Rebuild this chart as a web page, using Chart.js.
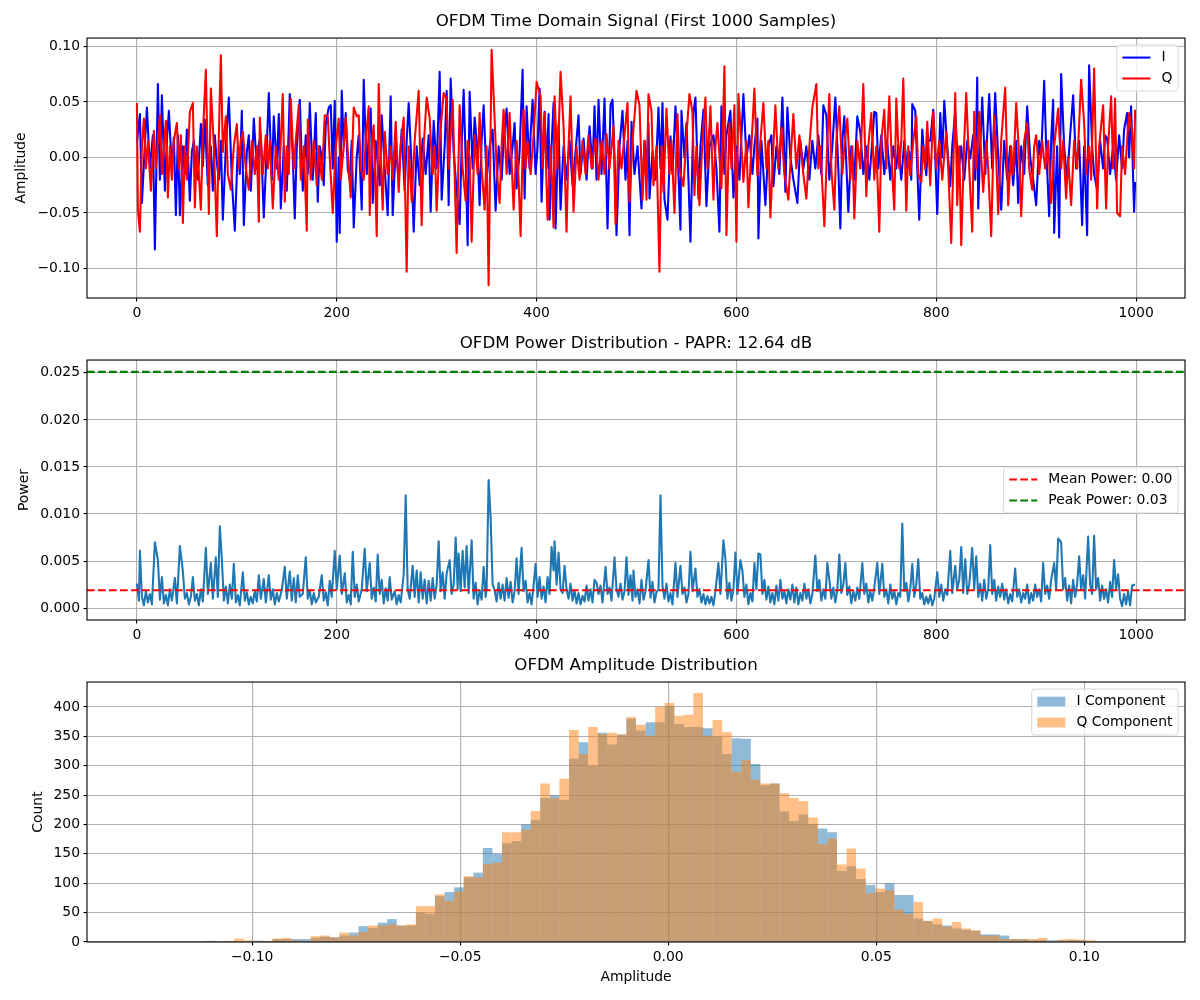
<!DOCTYPE html>
<html>
<head>
<meta charset="utf-8">
<script src="https://cdn.jsdelivr.net/npm/chart.js@4.4.1/dist/chart.umd.min.js"></script>
<style>
body{margin:0;background:#fff}
#wrap{position:relative;width:1200px;height:1000px}
canvas{position:absolute;left:0}
</style>
</head>
<body>
<div id="wrap">
<canvas id="c1" width="1200" height="330" style="top:0px"></canvas>
<canvas id="c2" width="1200" height="330" style="top:322px"></canvas>
<canvas id="c3" width="1200" height="356" style="top:644px"></canvas>
</div>
<script>

// --- time domain (sample index / amplitude) ---
let iIdx=[
0,3,5,8,10,13,16,18,21,23,
25,28,30,32,35,37,39,41,43,46,
48,50,53,55,57,59,61,64,66,68,
71,74,76,78,80,82,84,86,89,92,
95,98,101,103,105,107,110,112,114,117,
120,122,124,127,130,132,135,137,140,142,
144,147,150,153,156,158,160,163,166,169,
171,173,176,179,181,183,185,187,189,192,
194,196,198,200,202,203,205,207,209,211,
213,215,217,220,222,225,227,230,232,234,
236,239,243,245,248,251,254,256,259,262,
265,268,270,272,275,277,280,283,286,289,
292,294,297,300,303,305,308,310,312,314,
317,320,323,325,327,329,331,333,336,338,
341,343,345,347,350,353,356,359,362,365,
367,370,373,376,378,380,383,386,388,390,
393,394,396,399,401,403,405,408,410,412,
413,415,417,419,422,424,427,430,433,436,
439,442,444,447,450,453,456,458,460,462,
465,468,471,474,476,478,480,483,486,489,
491,493,495,498,501,505,508,510,512,513,
516,519,522,524,526,528,531,534,536,539,
541,544,545,548,550,552,554,557,559,562,
564,567,570,573,577,580,583,585,588,590,
594,597,600,603,607,610,613,616,618,621,
622,625,629,632,635,637,640,643,646,649,
651,654,657,661,664,667,670,673,676,679,
682,685,687,690,693,696,699,702,704,706,
708,712,715,718,721,724,727,730,733,736,
738,740,742,745,748,751,754,757,760,762,
765,768,771,773,775,776,779,781,783,786,
788,790,792,794,797,799,801,804,806,808,
811,814,816,819,822,825,828,831,834,837,
839,841,842,844,846,849,851,853,856,859,
862,865,868,871,874,877,880,882,885,888,
891,894,897,900,903,905,908,910,913,915,
917,918,921,923,925,928,931,934,937,940,
943,946,948,951,953,956,958,961,964,967,
969,971,974,977,980,983,986,988,991,993,
995,998,999]
let iVal=[
.013,.039,-.041,.012,.045,-.010,.020,-.083,.066,-.020,
.056,-.030,.015,.042,-.010,.018,-.052,.020,-.052,.010,
-.015,.025,-.039,.005,.015,-.012,-.020,.030,-.008,.034,
-.025,.010,-.030,.020,-.005,-.020,.015,-.056,.010,.054,
-.020,-.066,.010,-.015,.042,-.061,.005,.020,-.030,.035,
-.010,.012,.020,-.054,.010,.058,-.020,.037,-.010,.039,
-.046,.010,-.030,.057,.000,-.055,.010,.052,-.030,.020,
-.015,.049,-.020,.040,-.040,.010,.000,-.025,.030,.045,
.047,-.010,.051,-.076,.000,-.068,.060,.010,.040,-.010,
-.020,.015,-.063,.000,.020,-.047,.070,-.015,.020,.044,
-.041,.015,-.025,.038,-.010,-.052,.055,-.052,.010,-.020,
.025,-.030,.015,.049,-.010,-.067,.010,-.025,.017,-.015,
.020,-.049,.033,-.010,.077,-.038,.010,.060,-.043,.071,
.005,-.030,-.060,.010,.061,.000,-.079,.059,-.010,.036,
.005,-.043,.015,.047,-.020,.010,.025,-.048,.010,-.020,
.015,.044,-.015,.010,.031,-.028,.005,.079,-.037,.046,
-.010,.020,.052,-.015,.010,.062,-.040,.041,-.010,.039,
-.056,.010,.049,-.064,.030,-.047,.010,-.020,.015,-.025,
.005,.038,-.015,.017,-.020,.028,-.010,.046,-.020,.052,
-.015,.053,-.064,.047,.052,.000,-.070,.010,.042,-.020,
.015,-.070,.032,-.015,.010,-.046,.015,-.010,.031,-.037,
.005,-.020,.045,-.010,.049,-.038,-.056,.019,-.015,.046,
.010,-.065,.042,.000,.031,-.020,-.076,.040,.054,-.037,
.010,.043,-.044,.010,.020,-.010,-.067,.046,-.015,.020,
.042,-.036,.010,-.020,.057,-.001,.020,-.015,.010,.035,
-.073,.015,-.043,.010,.020,-.026,.010,-.015,.054,-.031,
.045,.000,-.020,-.041,.015,-.010,.010,-.020,.015,-.010,
.020,-.015,.047,.038,-.020,.010,.054,-.010,-.064,.015,
.037,-.049,.010,-.020,.037,.023,-.015,.010,-.020,.015,
.041,.040,-.010,.020,-.015,.013,-.020,.010,-.010,.011,
-.020,.015,-.010,.005,-.020,.048,.042,-.010,-.056,.025,
.000,-.016,.015,.015,.043,.000,-.051,.040,.000,.051,
.010,-.026,.010,.042,-.015,.010,-.020,.015,-.001,.020,
-.020,.072,-.046,.010,.054,-.015,.020,.057,-.010,.058,
.000,-.047,.015,-.020,.010,-.025,.015,-.041,.010,-.015,
.046,.000,-.020,-.043,.015,.000,.069,.010,-.053,.015,
.052,-.068,.010,-.072,.075,.010,-.020,.020,.056,-.010,
.015,-.061,.010,-.070,.083,.010,-.015,-.029,.015,-.010,
.020,.017,-.015,.010,-.020,.020,-.010,.025,.040,.000,
.046,-.049,-.022]

let qIdx=[
0,1,3,5,7,9,11,14,17,19,
21,23,25,27,29,31,33,35,37,40,
42,44,46,48,50,53,56,58,60,62,
64,66,69,72,74,77,80,82,84,86,
89,91,94,97,100,102,104,106,109,112,
115,118,120,122,123,126,129,131,133,136,
139,142,144,146,148,150,152,154,157,159,
162,164,167,170,171,174,177,180,182,185,
188,191,193,196,199,202,204,207,209,212,
214,217,220,222,224,227,229,232,233,235,
237,240,242,244,246,248,251,254,256,259,
262,264,267,270,272,275,278,282,285,287,
290,293,296,298,300,303,305,307,310,312,
314,316,318,320,323,326,329,331,333,335,
338,341,343,345,348,350,352,355,358,360,
363,365,367,370,373,377,380,382,384,387,
389,391,394,397,400,404,406,408,411,414,
417,418,421,424,427,430,432,434,437,440,
443,446,449,452,455,459,462,465,468,470,
473,477,479,482,485,488,491,493,496,500,
503,506,508,510,512,515,517,520,523,525,
527,530,533,535,538,541,543,547,550,553,
556,558,560,563,566,569,571,574,577,579,
581,585,588,590,593,595,598,600,602,605,
607,610,612,615,618,621,624,627,630,632,
634,637,639,642,645,648,652,655,657,660,
663,667,670,673,676,680,682,684,688,691,
693,695,698,700,703,706,708,711,714,716,
718,721,724,727,730,732,735,738,740,743,
745,748,750,753,756,758,760,763,765,767,
770,772,774,777,780,782,785,787,789,791,
794,797,800,803,806,810,812,815,819,821,
823,825,828,830,833,836,838,840,843,845,
847,850,852,855,858,860,862,865,869,872,
875,877,880,883,885,888,891,893,896,898,
900,903,906,909,912,915,918,922,925,927,
930,932,935,938,941,945,948,950,953,955,
958,961,963,967,970,972,975,977,979,981,
984,986,989,991,993,996,998,999]
let qVal=[
.049,-.048,-.067,.010,.035,-.010,.015,-.030,.024,-.010,
.015,.038,-.015,.010,.033,-.036,.010,-.020,.015,.031,
-.010,.020,-.059,.010,-.020,.041,.049,-.045,.010,-.015,
-.047,.020,.079,-.051,.062,.010,-.071,.020,.092,.005,
.037,-.015,-.029,.010,.030,-.010,.015,.023,-.010,-.029,
.015,-.015,.010,-.058,.036,-.015,.020,-.010,.015,-.046,
.010,-.020,.015,.057,-.040,.010,-.015,.053,-.010,.015,
.047,-.020,.010,-.066,.034,-.020,.015,-.025,.010,-.020,
.038,.037,.000,-.050,.010,.035,-.020,.010,.036,-.010,
-.036,.045,.037,.038,-.010,-.020,.015,.046,-.052,.010,
.029,-.071,.066,.000,-.047,.023,-.015,.010,-.020,.032,
-.031,.010,.036,-.103,.010,-.040,.015,.060,-.061,.010,
.054,.035,-.015,.010,-.048,.015,.037,.058,.052,-.010,
.020,.052,-.015,-.086,.047,-.010,-.039,.015,.000,-.076,
.020,-.015,.040,-.010,-.047,.010,-.115,.097,.035,-.010,
-.041,.010,.043,-.015,.040,-.047,.015,-.020,-.071,.043,
-.010,.014,-.015,.020,.068,.055,-.010,.040,-.056,.010,
-.063,.055,-.010,.077,.028,-.067,.010,.055,-.049,.010,
-.020,.015,-.015,.020,-.010,.017,-.020,.015,-.015,.021,
-.010,.028,-.060,.015,-.010,.020,.049,-.040,.015,.060,
.047,-.038,.015,-.038,.057,.042,-.025,.010,-.103,.010,
-.031,.044,-.015,.015,-.050,.039,-.010,-.026,.020,.057,
.041,-.034,.010,-.043,.015,.054,-.010,.046,-.038,.010,
.031,-.028,.082,-.070,.031,-.010,.047,-.076,.057,.010,
-.022,.015,-.045,.010,.062,-.016,.015,.049,-.010,.015,
-.054,.010,.047,-.010,.027,-.015,-.038,.010,.039,-.010,
.020,-.015,-.037,.010,.045,.066,-.010,.010,-.062,.015,
.057,-.010,-.047,.015,.046,-.015,.010,.035,-.020,.010,
-.055,.015,-.010,.066,-.035,.010,.040,-.020,.010,-.067,
.015,.043,-.010,.055,-.015,-.047,.053,-.010,.015,.071,
-.048,.010,-.016,.015,.037,-.015,-.022,.010,-.010,.032,
-.025,.041,-.010,.015,-.020,.023,-.010,-.077,.058,-.043,
.010,-.079,.015,.058,-.010,-.067,.041,-.010,.041,.000,
-.031,.015,-.010,-.071,.038,.000,-.051,.015,.063,-.043,
.010,-.015,.049,.000,-.053,.015,.031,-.010,-.029,.010,
.020,-.015,.015,-.010,.015,-.041,.010,.044,-.010,.015,
-.037,.000,-.043,.015,-.010,.070,.031,-.015,.010,-.020,
.080,-.046,.010,.047,-.046,.010,.055,-.010,.053,-.050,
-.053,.010,-.015,.015,.040,.023,-.010,.043]

// --- power ---
let pIdx=[
0,2,3,5,7,9,11,13,15,18,
21,23,25,27,29,31,33,35,38,40,
43,46,48,50,52,54,56,58,60,62,
64,66,69,71,74,76,79,81,83,85,
87,89,91,93,95,97,99,101,103,106,
108,110,112,114,116,118,120,122,124,127,
129,132,134,136,138,140,142,145,148,150,
153,155,157,159,161,163,166,169,171,173,
175,177,179,182,185,187,189,191,193,195,
198,200,203,205,208,210,212,214,216,218,
220,222,225,228,230,233,235,237,239,241,
243,245,247,249,251,253,255,258,260,262,
264,267,269,271,273,276,278,280,282,284,
286,288,290,292,294,296,298,300,302,304,
306,308,310,313,315,317,319,321,322,324,
326,328,330,332,335,337,339,341,343,345,
347,349,350,352,354,356,358,360,362,364,
366,368,370,372,374,376,378,380,382,385,
387,389,391,393,395,397,399,401,403,405,
407,409,411,413,415,417,418,420,422,424,
426,428,430,432,434,436,438,440,442,444,
446,448,450,452,454,456,458,460,462,464,
466,469,471,473,475,478,480,482,484,486,
488,490,492,494,496,497,499,501,503,505,
507,509,512,514,516,518,520,522,524,526,
528,530,532,534,536,539,541,544,546,548,
550,552,554,556,559,561,563,565,567,569,
571,573,575,577,579,582,584,587,589,591,
593,595,597,599,601,604,606,608,610,612,
614,616,618,620,622,624,626,628,630,632,
634,636,638,640,642,644,646,648,650,652,
654,656,658,660,662,664,666,668,670,672,
674,676,679,681,683,685,687,689,691,693,
695,697,699,701,703,705,707,709,711,713,
715,717,719,721,723,726,728,730,732,734,
736,738,741,743,746,748,750,752,754,756,
758,760,762,764,766,768,770,772,774,776,
778,780,782,784,786,788,790,792,794,796,
798,801,803,805,807,809,811,814,816,819,
821,823,825,827,829,831,833,836,838,840,
842,844,846,848,850,852,854,856,858,860,
862,864,866,868,870,872,874,876,879,881,
883,885,887,889,891,893,895,897,899,901,
903,905,907,909,911,913,915,918,920,922,
925,927,929,931,933,935,937,939,941,943,
945,947,949,952,954,956,958,960,962,964,
966,968,970,972,974,976,978,980,982,984,
986,988,990,992,994,996,999]
let pVal=[
.0026,.0008,.0061,.0012,.0003,.0018,.0006,.0015,.0004,.0070,
.0051,.0009,.0033,.0005,.0014,.0003,.0020,.0008,.0032,.0005,
.0066,.0039,.0010,.0016,.0004,.0012,.0033,.0008,.0015,.0003,
.0020,.0007,.0064,.0015,.0048,.0010,.0054,.0012,.0087,.0052,
.0008,.0023,.0005,.0025,.0010,.0047,.0006,.0014,.0003,.0038,
.0008,.0017,.0004,.0012,.0005,.0018,.0007,.0035,.0010,.0031,
.0006,.0035,.0009,.0020,.0004,.0016,.0007,.0019,.0044,.0010,
.0039,.0008,.0032,.0006,.0035,.0012,.0015,.0054,.0010,.0019,
.0004,.0016,.0006,.0012,.0035,.0008,.0017,.0003,.0029,.0012,
.0061,.0020,.0056,.0015,.0037,.0006,.0014,.0004,.0060,.0012,
.0025,.0007,.0020,.0063,.0018,.0048,.0010,.0022,.0007,.0057,
.0015,.0030,.0005,.0021,.0008,.0033,.0009,.0018,.0004,.0014,
.0006,.0036,.0120,.0020,.0010,.0045,.0012,.0040,.0006,.0038,
.0010,.0030,.0005,.0029,.0008,.0032,.0010,.0025,.0071,.0018,
.0038,.0010,.0037,.0051,.0015,.0025,.0075,.0020,.0058,.0018,
.0061,.0022,.0066,.0016,.0072,.0010,.0027,.0004,.0019,.0009,
.0044,.0012,.0020,.0136,.0096,.0025,.0019,.0007,.0027,.0010,
.0025,.0008,.0032,.0011,.0028,.0006,.0018,.0053,.0015,.0064,
.0018,.0029,.0006,.0016,.0004,.0024,.0047,.0012,.0033,.0010,
.0023,.0006,.0033,.0015,.0065,.0040,.0071,.0025,.0059,.0020,
.0016,.0045,.0020,.0010,.0026,.0008,.0019,.0005,.0016,.0004,
.0013,.0007,.0024,.0008,.0020,.0006,.0030,.0027,.0015,.0024,
.0006,.0044,.0015,.0022,.0008,.0054,.0020,.0012,.0026,.0009,
.0018,.0054,.0014,.0035,.0008,.0040,.0012,.0020,.0005,.0030,
.0009,.0018,.0051,.0011,.0028,.0006,.0017,.0020,.0120,.0024,
.0010,.0026,.0007,.0016,.0004,.0048,.0012,.0045,.0015,.0022,
.0006,.0015,.0060,.0018,.0042,.0012,.0020,.0006,.0015,.0004,
.0013,.0005,.0012,.0003,.0018,.0048,.0015,.0072,.0052,.0010,
.0027,.0008,.0020,.0059,.0015,.0051,.0040,.0012,.0025,.0004,
.0016,.0007,.0048,.0020,.0058,.0057,.0015,.0030,.0009,.0023,
.0006,.0016,.0004,.0024,.0008,.0030,.0010,.0018,.0005,.0020,
.0009,.0025,.0006,.0022,.0004,.0016,.0008,.0026,.0010,.0020,
.0005,.0015,.0056,.0018,.0030,.0008,.0020,.0010,.0048,.0030,
.0010,.0022,.0006,.0020,.0057,.0016,.0025,.0048,.0014,.0023,
.0005,.0018,.0008,.0022,.0010,.0048,.0015,.0026,.0006,.0018,
.0008,.0022,.0048,.0015,.0047,.0012,.0020,.0005,.0025,.0010,
.0018,.0004,.0016,.0012,.0090,.0018,.0027,.0007,.0020,.0047,
.0012,.0025,.0052,.0010,.0016,.0004,.0012,.0005,.0014,.0003,
.0010,.0038,.0012,.0025,.0008,.0020,.0014,.0061,.0016,.0045,
.0020,.0030,.0065,.0016,.0052,.0015,.0025,.0064,.0020,.0055,
.0012,.0026,.0008,.0030,.0010,.0020,.0067,.0015,.0030,.0008,
.0023,.0012,.0026,.0009,.0020,.0005,.0015,.0007,.0042,.0012,
.0020,.0006,.0016,.0010,.0025,.0005,.0016,.0008,.0025,.0012,
.0020,.0007,.0048,.0015,.0024,.0010,.0030,.0048,.0020,.0074,
.0070,.0020,.0032,.0008,.0024,.0005,.0030,.0012,.0026,.0055,
.0020,.0035,.0010,.0076,.0025,.0015,.0077,.0020,.0032,.0008,
.0024,.0010,.0020,.0006,.0028,.0012,.0051,.0020,.0036,.0010,
.0002,.0015,.0004,.0018,.0003,.0024,.0025]
let meanPower=0.0019
let peakPower=0.0251

// --- amplitude histogram (counts per bin) ---
let binStart=-0.1262
let binWidth=0.0023
let iCounts=[
0,0,0,0,0,0,0,2,0,0,
0,0,2,1,5,5,5,5,7,9,
8,11,16,27,24,33,39,28,28,50,
48,78,85,93,110,118,160,150,168,172,
200,208,245,250,242,312,340,300,356,336,
353,380,360,374,374,402,371,366,366,364,
350,320,347,346,303,267,270,222,206,217,
201,193,187,121,129,107,97,85,100,80,
80,40,36,30,28,23,21,19,13,13,
11,5,5,3,3,3,3,3,3,0,
0,1,1,1]
let qCounts=[
1,0,0,0,1,0,0,0,0,2,
6,3,2,2,6,7,3,2,10,11,
8,16,11,17,28,28,30,28,30,61,
61,81,70,86,112,110,133,135,187,187,
191,223,270,245,278,361,320,366,354,356,
353,383,370,351,400,407,385,387,424,351,
378,357,290,310,276,270,270,253,245,240,
212,167,176,132,159,125,83,91,88,55,
48,68,36,40,26,34,23,20,11,11,
5,5,5,5,7,1,4,5,4,3,
0,0,0,0]

// ticks / limits
let sampleTicks=[0,200,400,600,800,1000]
let ampTicks=[-0.10,-0.05,0,0.05,0.10]
let powerTicks=[0,0.005,0.010,0.015,0.020,0.025]
let histTicks=[-0.10,-0.05,0,0.05,0.10]
let countTicks=[0,50,100,150,200,250,300,350,400]
let tMin=-49.95,tMax=1048.95

// matplotlib sizes are in points (100 dpi)
let LW=2.08,THIN=1.11,DASH=[7.7,3.3]

Chart.defaults.font.family="DejaVu Sans"
Chart.defaults.font.size=13.9
Chart.defaults.color="#000"
Chart.defaults.animation=false

function fmt(d){
return v=>(v<0?"\u2212":"")+Math.abs(v).toFixed(d)
}

function axis(min,max,tickVals,dec,size,title,titlePad,z){
return{
type:"linear",min:min,max:max,offset:false,z:z||0,
afterBuildTicks:s=>{s.ticks=tickVals.map(v=>({value:v}))},
afterFit:s=>{if(s.isHorizontal())s.height=size;else s.width=size},
ticks:{callback:fmt(dec),autoSkip:false,maxRotation:0,padding:3.5,color:"#000"},
grid:{color:"#b0b0b0",lineWidth:THIN,tickLength:3.5,tickColor:"#000",tickWidth:THIN,offset:false},
border:{display:false},
title:title?{display:true,text:title,color:"#000",font:{size:13.9},padding:titlePad}:{display:false}
}
}

// black frame round the plot area
let frame={
id:"frame",
afterDraw(c){
let a=c.chartArea,ctx=c.ctx
ctx.save()
ctx.strokeStyle="#000"
ctx.lineWidth=THIN
ctx.strokeRect(a.left,a.top,a.right-a.left,a.bottom-a.top)
ctx.restore()
}
}

// matplotlib-like legend box inside the axes
let mplLegend={
id:"mplLegend",
afterDraw(c,args,o){
let ctx=c.ctx,a=c.chartArea
let items=c.data.datasets.filter(d=>d.label)
let fs=13.9,pad=5.6,hl=28,gap=11.1,sp=7
ctx.save()
ctx.font=fs+'px "DejaVu Sans"'
let tw=Math.max(...items.map(d=>ctx.measureText(d.label).width))
let w=pad*2+hl+gap+tw
let h=pad*2+items.length*fs+(items.length-1)*sp
let x=a.right-7-w
let y=o.loc=="center right"?(a.top+a.bottom)/2-h/2:a.top+7
ctx.beginPath()
ctx.roundRect(x,y,w,h,2.8)
ctx.fillStyle="rgba(255,255,255,0.8)"
ctx.fill()
ctx.strokeStyle="rgba(204,204,204,0.8)"
ctx.lineWidth=1
ctx.stroke()
items.forEach((d,i)=>{
let cy=y+pad+fs/2+i*(fs+sp)
if(d.type=="bar"){
ctx.fillStyle=d.backgroundColor
ctx.fillRect(x+pad,cy-fs*0.35,hl,fs*0.7)
}else{
ctx.strokeStyle=d.borderColor
ctx.lineWidth=d.borderWidth
ctx.setLineDash(d.borderDash||[])
ctx.beginPath()
ctx.moveTo(x+pad,cy)
ctx.lineTo(x+pad+hl,cy)
ctx.stroke()
ctx.setLineDash([])
}
ctx.fillStyle="#000"
ctx.textBaseline="middle"
ctx.textAlign="left"
ctx.fillText(d.label,x+pad+hl+gap,cy)
})
ctx.restore()
}
}

function titleCfg(text){
return{display:true,text:text,color:"#000",fullSize:false,
font:{size:16.7,weight:"normal"},padding:{top:12,bottom:6}}
}

function pts(xs,ys){return xs.map((x,k)=>({x:x,y:ys[k]}))}

let base={
responsive:false,devicePixelRatio:1,
layout:{padding:{right:15}},
elements:{point:{radius:0}}
}

// chart 1: time domain
new Chart(document.getElementById("c1"),{
type:"line",
data:{datasets:[
{type:"line",label:"I",data:pts(iIdx,iVal),borderColor:"#0000ff",borderWidth:LW,borderJoinStyle:"round",pointRadius:0,order:2},
{type:"line",label:"Q",data:pts(qIdx,qVal),borderColor:"#ff0000",borderWidth:LW,borderJoinStyle:"round",pointRadius:0,order:1}
]},
options:Object.assign({},base,{
plugins:{legend:{display:false},tooltip:{enabled:false},title:titleCfg("OFDM Time Domain Signal (First 1000 Samples)"),mplLegend:{loc:"upper right"}},
scales:{
x:axis(tMin,tMax,sampleTicks,0,32),
y:axis(-0.1266,0.1075,ampTicks,2,87,"Amplitude",{top:12.7,bottom:0})
}
}),
plugins:[frame,mplLegend]
})

// chart 2: power
new Chart(document.getElementById("c2"),{
type:"line",
data:{datasets:[
{type:"line",data:pts(pIdx,pVal),borderColor:"#1f77b4",borderWidth:LW,borderJoinStyle:"round",pointRadius:0,order:3},
{type:"line",label:"Mean Power: 0.00",data:[{x:tMin,y:meanPower},{x:tMax,y:meanPower}],borderColor:"#ff0000",borderWidth:LW,borderDash:DASH,pointRadius:0,order:2},
{type:"line",label:"Peak Power: 0.03",data:[{x:tMin,y:peakPower},{x:tMax,y:peakPower}],borderColor:"#008000",borderWidth:LW,borderDash:DASH,pointRadius:0,order:1}
]},
options:Object.assign({},base,{
plugins:{legend:{display:false},tooltip:{enabled:false},title:titleCfg("OFDM Power Distribution - PAPR: 12.64 dB"),mplLegend:{loc:"center right"}},
scales:{
x:axis(tMin,tMax,sampleTicks,0,32),
y:axis(-0.00126,0.02636,powerTicks,3,87,"Power",{top:15.7,bottom:0})
}
}),
plugins:[frame,mplLegend]
})

// chart 3: histogram
let centers=iCounts.map((c,k)=>binStart+k*binWidth)
new Chart(document.getElementById("c3"),{
type:"bar",
data:{datasets:[
{type:"bar",label:"I Component",data:pts(centers,iCounts),backgroundColor:"rgba(31,119,180,0.5)",borderWidth:0,inflateAmount:0,barPercentage:1,categoryPercentage:1,grouped:false,order:2},
{type:"bar",label:"Q Component",data:pts(centers,qCounts),backgroundColor:"rgba(255,127,14,0.5)",borderWidth:0,inflateAmount:0,barPercentage:1,categoryPercentage:1,grouped:false,order:1}
]},
options:Object.assign({},base,{
plugins:{legend:{display:false},tooltip:{enabled:false},title:titleCfg("OFDM Amplitude Distribution"),mplLegend:{loc:"upper right"}},
scales:{
x:axis(-0.1397,0.1242,histTicks,2,58,"Amplitude",{top:0,bottom:14.7},1),
y:axis(0,442.5,countTicks,0,87,"Count",{top:29.7,bottom:0},1)
}
}),
plugins:[frame,mplLegend]
})

</script>
</body>
</html>
